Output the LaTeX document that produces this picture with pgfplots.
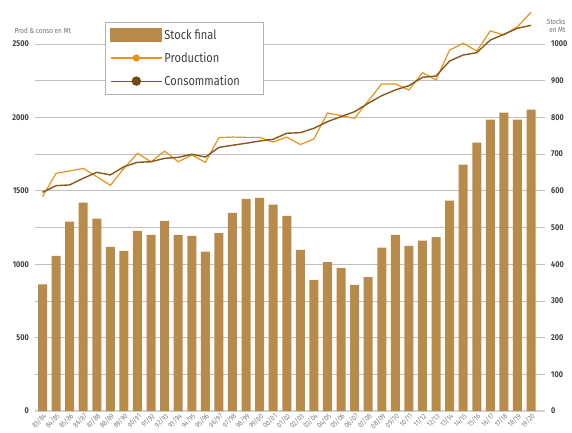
\documentclass[border=0pt]{standalone}
\usepackage{fontspec}
\setmainfont{Fira Sans}[FakeStretch=0.85]
\usepackage{pgfplots}
\usepackage{pgfplotstable}
\pgfplotsset{compat=1.18}
\definecolor{stockc}{RGB}{185,139,75}
\definecolor{prodc}{RGB}{232,146,28}
\definecolor{consoc}{RGB}{135,88,28}
\definecolor{gridc}{RGB}{192,192,192}
\definecolor{labc}{RGB}{64,64,64}

% idx label stock prod conso
\pgfplotstableread{
idx label stock prod conso
0  83/84 345 1460 1490
1  84/85 423 1619 1535
2  85/86 516 1635 1540
3  86/87 568 1653 1585
4  87/88 524 1596 1626
5  88/89 447 1537 1608
6  89/90 436 1653 1664
7  90/91 491 1755 1694
8  91/92 480 1698 1698
9  92/93 518 1770 1721
10 93/94 480 1698 1728
11 94/95 477 1744 1749
12 95/96 434 1694 1730
13 96/97 485 1862 1796
14 97/98 540 1866 1810
15 98/99 578 1864 1824
16 99/00 581 1864 1839
17 00/01 562 1832 1851
18 01/02 532 1866 1892
19 02/03 439 1815 1896
20 03/04 357 1853 1926
21 04/05 406 2030 1971
22 05/06 390 2012 2005
23 06/07 344 1994 2039
24 07/08 365 2112 2096
25 08/09 445 2228 2148
26 09/10 480 2228 2187
27 10/11 450 2187 2216
28 11/12 464 2305 2273
29 12/13 474 2255 2282
30 13/14 573 2459 2384
31 14/15 671 2505 2425
32 15/16 731 2452 2441
33 16/17 794 2589 2527
34 17/18 813 2561 2566
35 18/19 794 2618 2607
36 19/20 821 2716 2627
}\data

\pgfplotsset{
  common/.style={
    scale only axis, width=510pt, height=403.7pt,
    xmin=-0.553, xmax=37.03, ymin=0,
    axis line style={draw=none}, major tick length=0pt,
    /pgf/number format/assume math mode=true,
    /pgf/number format/1000 sep={},
    y tick label style={font=\bfseries\fontsize{8.5}{9}\selectfont, text=labc, inner xsep=6pt},
  }
}

\begin{document}
\begin{tikzpicture}
\useasboundingbox (-35pt,-21pt) rectangle (537pt,411pt);

% stocks, right axis
\begin{axis}[common,
  ymax=1100,
  axis y line*=right, axis x line*=bottom,
  ytick={0,100,...,1000},
  ymajorgrids, grid style={gridc, line width=0.8pt},
  extra y ticks={0}, extra y tick labels={},
  extra y tick style={grid style={gray!35, line width=2pt}},
  xtick=data, xticklabels from table={\data}{label},
  x tick label style={rotate=45, anchor=north east, inner sep=1pt,
    font=\fontsize{7.5}{8}\selectfont, text=gray},
  ylabel={Stocks\\en Mt},
  ylabel style={rotate=-90, align=right, anchor=north east,
    at={(axis description cs:1.047,0.981)}, font=\fontsize{7.5}{8.5}\selectfont, text=gray!90!black},
]
\addplot[ybar, bar width=9pt, fill=stockc, draw=none] table[x=idx, y=stock] {\data};
\end{axis}

% production and consumption, left axis
\begin{axis}[common,
  ymax=2750,
  axis y line*=left, axis x line*=bottom,
  ytick={0,500,...,2500},
  xtick=\empty,
  ylabel={Prod \& conso en Mt},
  ylabel style={rotate=-90, anchor=base west,
    at={(axis description cs:-0.047,0.936)}, font=\fontsize{7.5}{8.5}\selectfont, text=gray!90!black},
  legend cell align=left,
  legend style={at={(axis description cs:0.137,0.9636)}, anchor=north west,
    draw=gray!60, line width=0.8pt, font=\fontsize{13}{14}\selectfont, text=labc,
    inner xsep=5pt, inner ysep=5pt, row sep=7.5pt},
]
\addlegendimage{legend image code/.code={\fill[stockc] (0pt,-6.5pt) rectangle (51pt,6.5pt);}}
\addlegendentry{\makebox[92pt][l]{Stock final}}
\addplot[prodc, line width=1.2pt, no marks,
  legend image code/.code={\draw[prodc, line width=1.2pt] (0pt,0pt) -- (51pt,0pt);
    \fill[prodc] (25.5pt,0pt) circle (3pt);}]
  table[x=idx, y=prod] {\data};
\addlegendentry{Production}
\addplot[consoc, line width=1.4pt, no marks,
  legend image code/.code={\draw[consoc, line width=1.2pt] (0pt,0pt) -- (51pt,0pt);
    \fill[consoc!85!black] (25.5pt,0pt) circle (4pt);}]
  table[x=idx, y=conso] {\data};
\addlegendentry{Consommation}
\end{axis}
\end{tikzpicture}
\end{document}
